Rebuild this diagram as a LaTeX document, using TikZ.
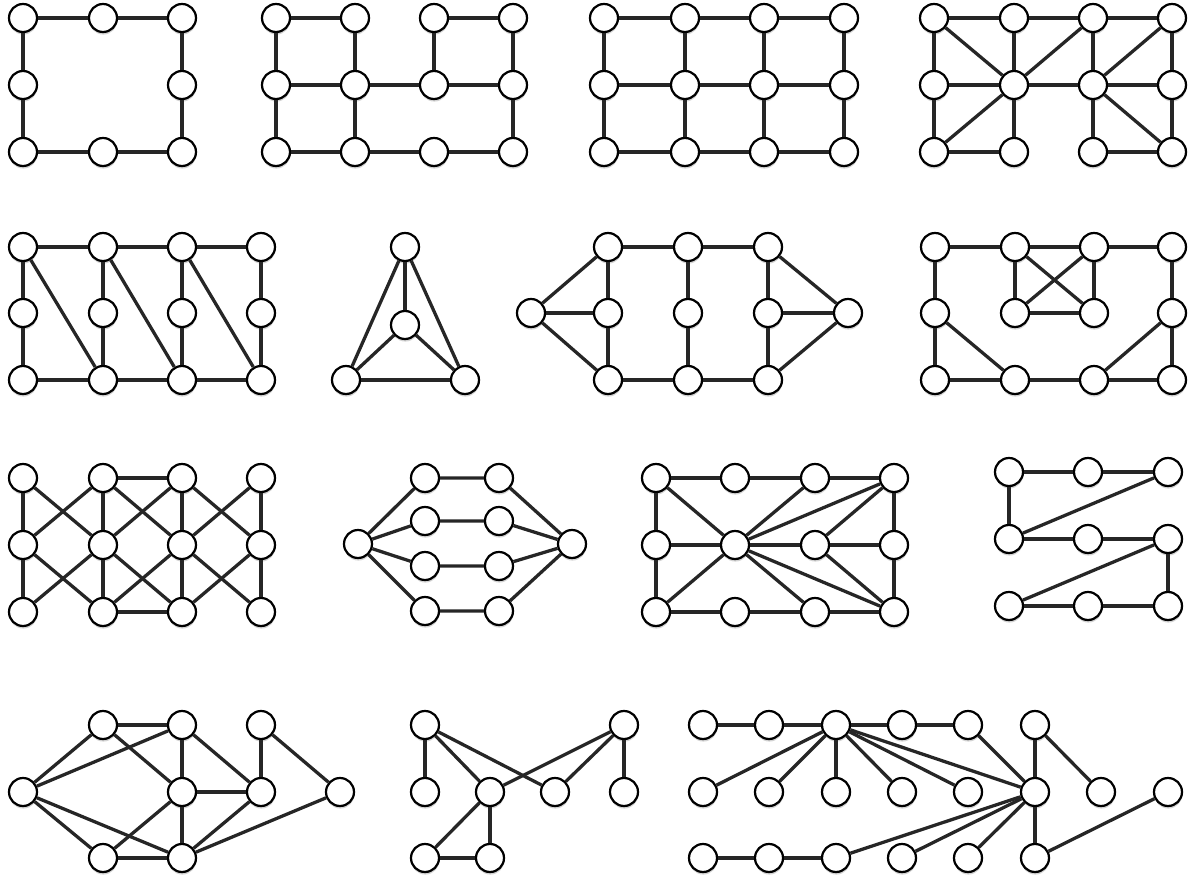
\documentclass[tikz,border=0pt]{standalone}
\usetikzlibrary{shadows}
\tikzset{
  vertex/.style={
    shape = circle,
    draw,
    fill = white,
    line width = 1.9pt,
    minimum size = 0.84cm,
    inner sep = 0pt,
    drop shadow = {shadow xshift=0.3pt, shadow yshift=-2.2pt, opacity=0.35}
  },
  link/.style={
    line width = 2.8pt,
    draw = black!85
  }
}
\begin{document}
\begin{tikzpicture}[x=0.03cm,y=-0.03cm]
            \useasboundingbox (0,0) rectangle (1193,880);
            % row 1
            \foreach \n/\x/\y in {a11/23/18,a21/103/18,a31/182/18,a12/23/85,a32/182/85,a13/23/152,a23/103/152,a33/182/152}
                \node[vertex] (\n) at (\x,\y) {};
            \foreach \u/\v in {a11/a21,a21/a31,a31/a32,a32/a33,a33/a23,a23/a13,a13/a12,a12/a11}
                \draw[link] (\u) -- (\v);
            \foreach \i/\x in {1/276,2/355,3/434,4/513}{
                \foreach \j/\y in {1/18,2/85,3/152}{
                    \node[vertex] (b\i\j) at (\x,\y) {};
                }
            }
            \foreach \u/\v in {b11/b21,b31/b41,b11/b12,b12/b13,b21/b22,b22/b23,b31/b32,b41/b42,b42/b43,
                               b12/b22,b22/b32,b32/b42,b13/b23,b23/b33,b33/b43}
                \draw[link] (\u) -- (\v);
            \foreach \i/\x in {1/604,2/685,3/764,4/844}{
                \foreach \j/\y in {1/18,2/85,3/152}{
                    \node[vertex] (c\i\j) at (\x,\y) {};
                }
            }
            \foreach \i/\k in {1/2,2/3,3/4}{
                \foreach \j in {1,2,3}{
                    \draw[link] (c\i\j) -- (c\k\j);
                }
            }
            \foreach \i in {1,...,4}{
                \foreach \j/\l in {1/2,2/3}{
                    \draw[link] (c\i\j) -- (c\i\l);
                }
            }
            \foreach \i/\x in {1/934,2/1014,3/1093,4/1172}{
                \foreach \j/\y in {1/18,2/85,3/152}{
                    \node[vertex] (d\i\j) at (\x,\y) {};
                }
                \draw[link] (d\i1) -- (d\i2) -- (d\i3);
            }
            \foreach \u/\v in {d11/d21,d21/d31,d31/d41,d12/d22,d22/d32,d32/d42,d13/d23,d33/d43,
                               d11/d22,d22/d31,d22/d13,d32/d41,d32/d43}
                \draw[link] (\u) -- (\v);
            % row 2
            \foreach \i/\x in {1/23,2/103,3/182,4/261}{
                \foreach \j/\y in {1/247,2/313,3/380}{
                    \node[vertex] (e\i\j) at (\x,\y) {};
                }
                \draw[link] (e\i1) -- (e\i2) -- (e\i3);
            }
            \foreach \u/\v in {e11/e21,e21/e31,e31/e41,e13/e23,e23/e33,e33/e43,e11/e23,e21/e33,e31/e43}
                \draw[link] (\u) -- (\v);
            \node[vertex] (ft) at (405,247) {};
            \node[vertex] (fc) at (405,325) {};
            \node[vertex] (fl) at (346,380) {};
            \node[vertex] (fr) at (465,380) {};
            \foreach \u/\v in {ft/fc,ft/fl,ft/fr,fc/fl,fc/fr,fl/fr}
                \draw[link] (\u) -- (\v);
            \node[vertex] (gl) at (531,313) {};
            \node[vertex] (gr) at (848,313) {};
            \foreach \i/\x in {1/608,2/688,3/768}{
                \foreach \j/\y in {1/247,2/313,3/380}{
                    \node[vertex] (g\i\j) at (\x,\y) {};
                }
                \draw[link] (g\i1) -- (g\i2) -- (g\i3);
            }
            \foreach \u/\v in {gl/g11,gl/g12,gl/g13,g11/g21,g21/g31,g13/g23,g23/g33,g31/gr,g32/gr,g33/gr}
                \draw[link] (\u) -- (\v);
            \foreach \i/\x in {1/935,2/1015,3/1094,4/1172}{
                \foreach \j/\y in {1/247,2/313,3/380}{
                    \node[vertex] (h\i\j) at (\x,\y) {};
                }
            }
            \foreach \u/\v in {h11/h21,h21/h31,h31/h41,h11/h12,h12/h13,h41/h42,h42/h43,h21/h22,h31/h32,
                               h22/h32,h21/h32,h31/h22,h12/h23,h13/h23,h23/h33,h33/h43,h33/h42}
                \draw[link] (\u) -- (\v);
            % row 3
            \foreach \i/\x in {1/23,2/103,3/182,4/261}{
                \foreach \j/\y in {1/478,2/545,3/612}{
                    \node[vertex] (i\i\j) at (\x,\y) {};
                }
                \draw[link] (i\i1) -- (i\i2) -- (i\i3);
            }
            \foreach \i/\k in {1/2,2/3,3/4}{
                \foreach \j/\l in {1/2,2/3}{
                    \draw[link] (i\i\j) -- (i\k\l);
                    \draw[link] (i\i\l) -- (i\k\j);
                }
            }
            \draw[link] (i21) -- (i31);
            \draw[link] (i23) -- (i33);
            \node[vertex] (kl) at (358,544) {};
            \node[vertex] (kr) at (572,544) {};
            \foreach \j/\y in {1/478,2/521,3/566,4/611}{
                \node[vertex] (ka\j) at (425,\y) {};
                \node[vertex] (kb\j) at (499,\y) {};
                \draw[link] (kl) -- (ka\j) -- (kb\j) -- (kr);
            }
            \foreach \i/\x in {1/656,2/735,3/815,4/894}{
                \foreach \j/\y in {1/478,2/545,3/612}{
                    \node[vertex] (l\i\j) at (\x,\y) {};
                }
            }
            \foreach \u/\v in {l11/l21,l21/l31,l31/l41,l12/l22,l22/l32,l32/l42,l13/l23,l23/l33,l33/l43,
                               l11/l12,l12/l13,l41/l42,l42/l43,
                               l22/l11,l22/l13,l22/l31,l22/l41,l22/l33,l22/l43,l32/l41,l32/l43}
                \draw[link] (\u) -- (\v);
            \foreach \i/\x in {1/1009,2/1088,3/1168}{
                \foreach \j/\y in {1/472,2/539,3/606}{
                    \node[vertex] (m\i\j) at (\x,\y) {};
                }
            }
            \foreach \u/\v in {m11/m21,m21/m31,m11/m12,m31/m12,m12/m22,m22/m32,m32/m13,m32/m33,m13/m23,m23/m33}
                \draw[link] (\u) -- (\v);
            % row 4
            \foreach \n/\x/\y in {na/23/792,nb/103/725,nc/182/725,nd/261/725,ne/182/792,
                                  nf/261/792,ng/340/792,nh/103/858,ni/182/858}
                \node[vertex] (\n) at (\x,\y) {};
            \foreach \u/\v in {na/nb,na/nc,na/nh,na/ni,nb/nc,nb/ne,nc/ne,nc/nf,nd/nf,nd/ng,
                               ne/nf,ne/nh,ne/ni,nf/ni,ng/ni,nh/ni}
                \draw[link] (\u) -- (\v);
            \foreach \n/\x/\y in {o1/425/725,o2/425/792,o3/490/792,o4/555/792,
                                  o5/624/725,o6/624/792,o7/425/858,o8/490/858}
                \node[vertex] (\n) at (\x,\y) {};
            \foreach \u/\v in {o1/o2,o1/o3,o1/o4,o5/o3,o5/o4,o5/o6,o3/o7,o3/o8,o7/o8}
                \draw[link] (\u) -- (\v);
            \foreach \i/\x in {1/703,2/769,3/836,4/902,5/968,6/1035}{
                \node[vertex] (p\i1) at (\x,725) {};
                \node[vertex] (p\i3) at (\x,858) {};
            }
            \foreach \i/\x in {1/703,2/769,3/836,4/902,5/968,6/1035,7/1101,8/1168}
                \node[vertex] (p\i2) at (\x,792) {};
            \foreach \u/\v in {p11/p21,p21/p31,p31/p41,p41/p51,p31/p12,p31/p22,p31/p32,p31/p42,p31/p52,p31/p62,
                               p51/p62,p61/p62,p61/p72,p62/p33,p62/p43,p62/p53,p62/p63,p82/p63,p13/p23,p23/p33}
                \draw[link] (\u) -- (\v);
        \end{tikzpicture}
\end{document}
